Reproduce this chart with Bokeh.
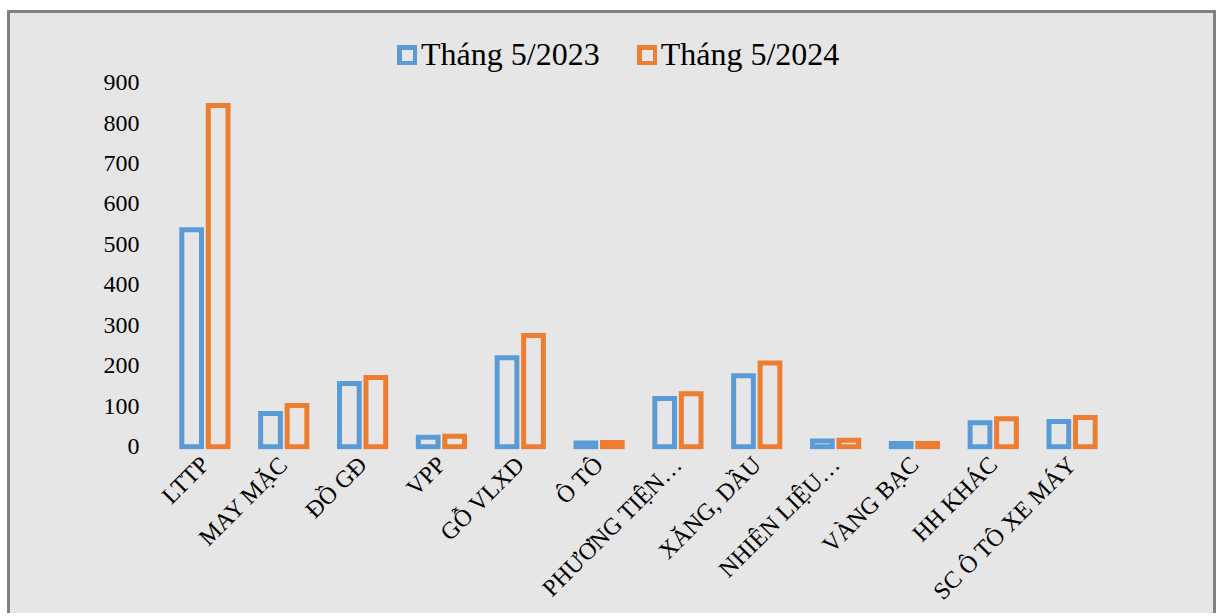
import math
from bokeh.plotting import figure
from bokeh.models import ColumnDataSource, FactorRange, Range1d, Legend, LegendItem, FixedTicker
from bokeh.transform import dodge
from bokeh.embed import file_html
from bokeh.resources import INLINE

categories = ["LTTP", "MAY MẶC", "ĐỒ GĐ", "VPP", "GỖ VLXD", "Ô TÔ", "PHƯƠNG TIỆN…",
              "XĂNG, DẦU", "NHIÊN LIỆU…", "VÀNG BẠC", "HH KHÁC", "SC Ô TÔ XE MÁY"]
may_2023 = [536, 82, 156, 23, 220, 9, 119, 175, 14, 8, 59, 62]
may_2024 = [843, 102, 171, 26, 275, 10, 131, 207, 16, 8, 69, 72]
series_names = ["Tháng 5/2023", "Tháng 5/2024"]
y_ticks = [0, 100, 200, 300, 400, 500, 600, 700, 800, 900]

BG = "#e6e6e6"
BLUE = "#5b9bd5"
ORANGE = "#ed7d31"
FONT = "Liberation Serif"

src = ColumnDataSource(dict(cat=categories, a=may_2023, b=may_2024))

p = figure(x_range=FactorRange(*categories, range_padding=0), y_range=Range1d(-7, 1041),
           width=1209, height=603, output_backend="svg", toolbar_location=None,
           background_fill_color=None, border_fill_color=None, outline_line_color=None,
           min_border_left=155, min_border_right=108, min_border_top=12, min_border_bottom=150,
           margin=(10, 0, 0, 7),
           styles={"background-color": BG,
                   "border-left": "3px solid #808080", "border-top": "3px solid #808080",
                   "border-right": "3px solid #808080"})

r1 = p.vbar(x=dodge("cat", -0.168, range=p.x_range), top="a", width=0.25, bottom=0, source=src,
            fill_alpha=0, line_color=BLUE, line_width=5, line_join="miter")
r2 = p.vbar(x=dodge("cat", 0.168, range=p.x_range), top="b", width=0.25, bottom=0, source=src,
            fill_alpha=0, line_color=ORANGE, line_width=5, line_join="miter")

p.xgrid.visible = False
p.ygrid.visible = False

p.yaxis.ticker = FixedTicker(ticks=y_ticks)
p.yaxis.axis_line_color = None
p.yaxis.major_tick_line_color = None
p.yaxis.minor_tick_line_color = None
p.yaxis.major_label_text_font = FONT
p.yaxis.major_label_text_font_size = "24px"
p.yaxis.major_label_text_color = "black"
p.yaxis.major_label_standoff = 20

p.xaxis.axis_line_color = None
p.xaxis.major_tick_line_color = None
p.xaxis.major_label_orientation = math.pi / 4
p.xaxis.major_label_text_font = FONT
p.xaxis.major_label_text_font_size = "24px"
p.xaxis.major_label_text_color = "black"
p.xaxis.major_label_standoff = 5

legend = Legend(items=[LegendItem(label=series_names[0], renderers=[r1]),
                       LegendItem(label=series_names[1], renderers=[r2])],
                orientation="horizontal", location=(232, 376),
                background_fill_alpha=0, border_line_color=None,
                label_text_font=FONT, label_text_font_size="32px", label_text_color="black",
                glyph_width=20, glyph_height=20, label_standoff=4, spacing=37,
                padding=0, margin=0)
p.add_layout(legend, "center")

open("out.html", "w").write(file_html(p, INLINE))
